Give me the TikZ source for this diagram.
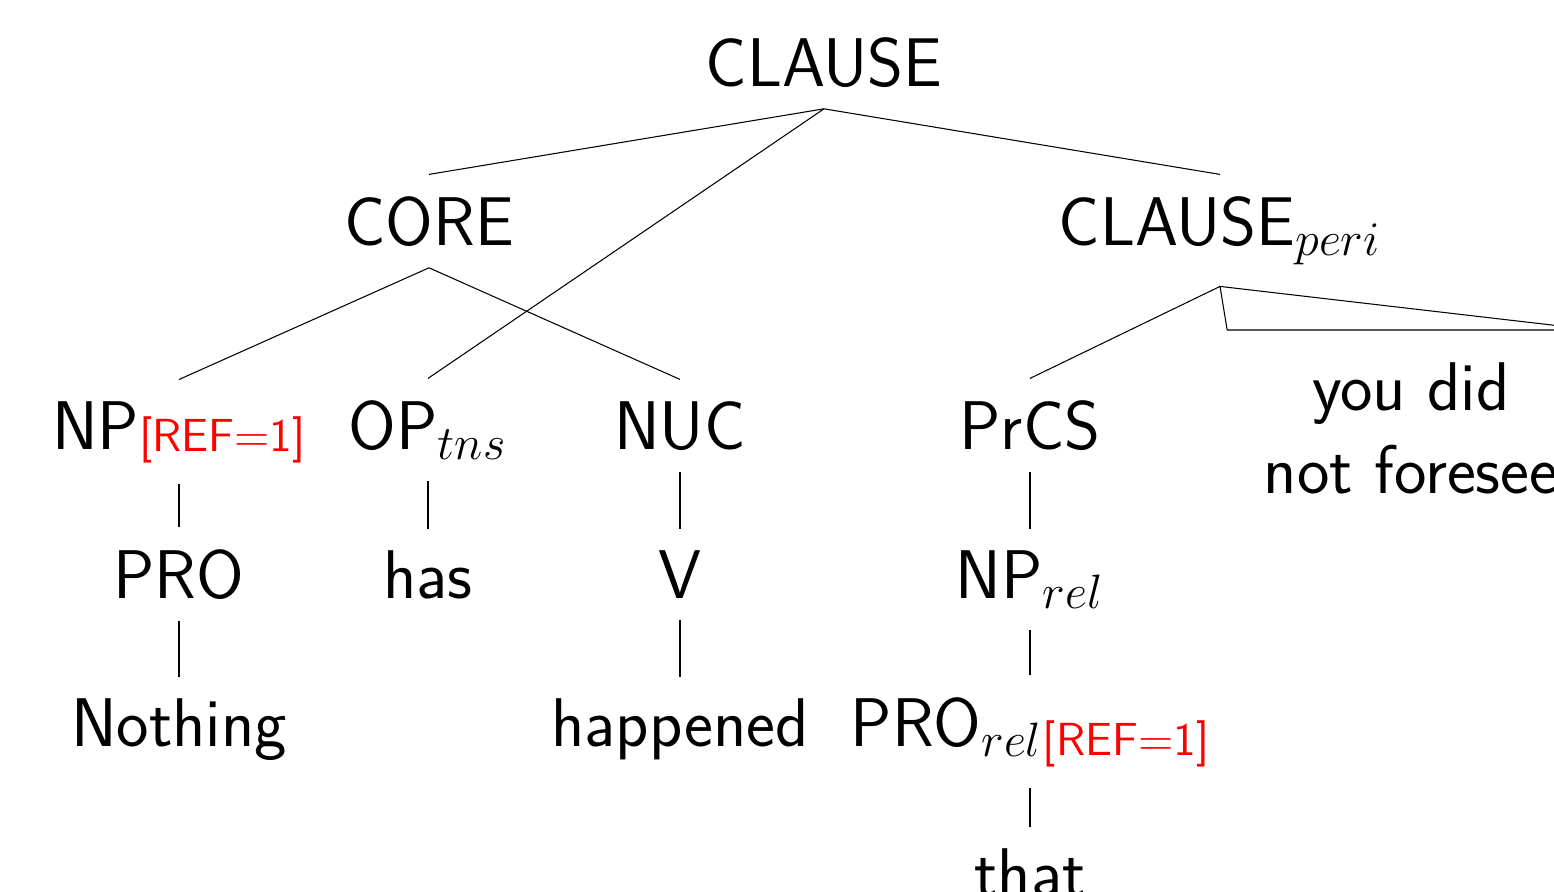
\RequirePackage{fix-cm}
\documentclass[tikz,border=0pt]{standalone}
\usepackage{tikz}
\usetikzlibrary{positioning}
\tikzstyle{cat}=[font=\sffamily\fontsize{19.6}{23.5}\selectfont, anchor=base, inner sep=0.21cm]
\tikzstyle{roofnode}=[cat, anchor=north, align=center, inner xsep=0.36cm, inner ysep=0.32cm]
\tikzstyle{branch}=[line width=0.3pt]
% red coindexation mark, a little smaller and lowered
\newcommand{\refmark}[2]{\raisebox{#1}{\color{red}\fontsize{13.2}{16}\selectfont #2}}

\begin{document}
\begin{tikzpicture}

   \useasboundingbox (0,0) rectangle (15.54,-8.91);

    \foreach \pos/\name/\txt in {{(8.24,-0.86)/root/CLAUSE}, {(4.29,-2.45)/core/CORE}, {(12.20,-2.45)/peri/{CLAUSE$_{peri}$}},
        {(1.79,-4.49)/np/{NP\refmark{-0.6pt}{[REF=1]}}}, {(4.28,-4.49)/op/{OP$_{tns}$}}, {(6.80,-4.49)/nuc/NUC}, {(10.30,-4.49)/prcs/PrCS},
        {(1.79,-5.98)/pro/PRO}, {(4.28,-5.98)/has/has}, {(6.80,-5.98)/v/V}, {(10.30,-5.98)/nprel/{NP$_{rel}$}},
        {(1.79,-7.46)/nothing/Nothing}, {(6.80,-7.46)/happened/happened}, {(10.30,-7.46)/prorel/{PRO$_{rel}$\refmark{-2.6pt}{[REF=1]}}},
        {(10.30,-8.96)/that/that}}
        \node[cat] (\name) at \pos {\txt};

    \foreach \source/\dest in {root/core, root/op, root/peri, core/np, core/nuc, peri/prcs,
        np/pro, pro/nothing, op/has, nuc/v, v/happened, prcs/nprel, nprel/prorel, prorel/that}
        \draw[branch] (\source.south) -- (\dest.north);

  % unanalysed part under a roof
  \node[roofnode] (roof) at (14.11,-3.30) {you did\\not foresee};
  \draw[branch] (peri.south) -- (roof.north west) -- (roof.north east) -- cycle;

\end{tikzpicture}
\end{document}
